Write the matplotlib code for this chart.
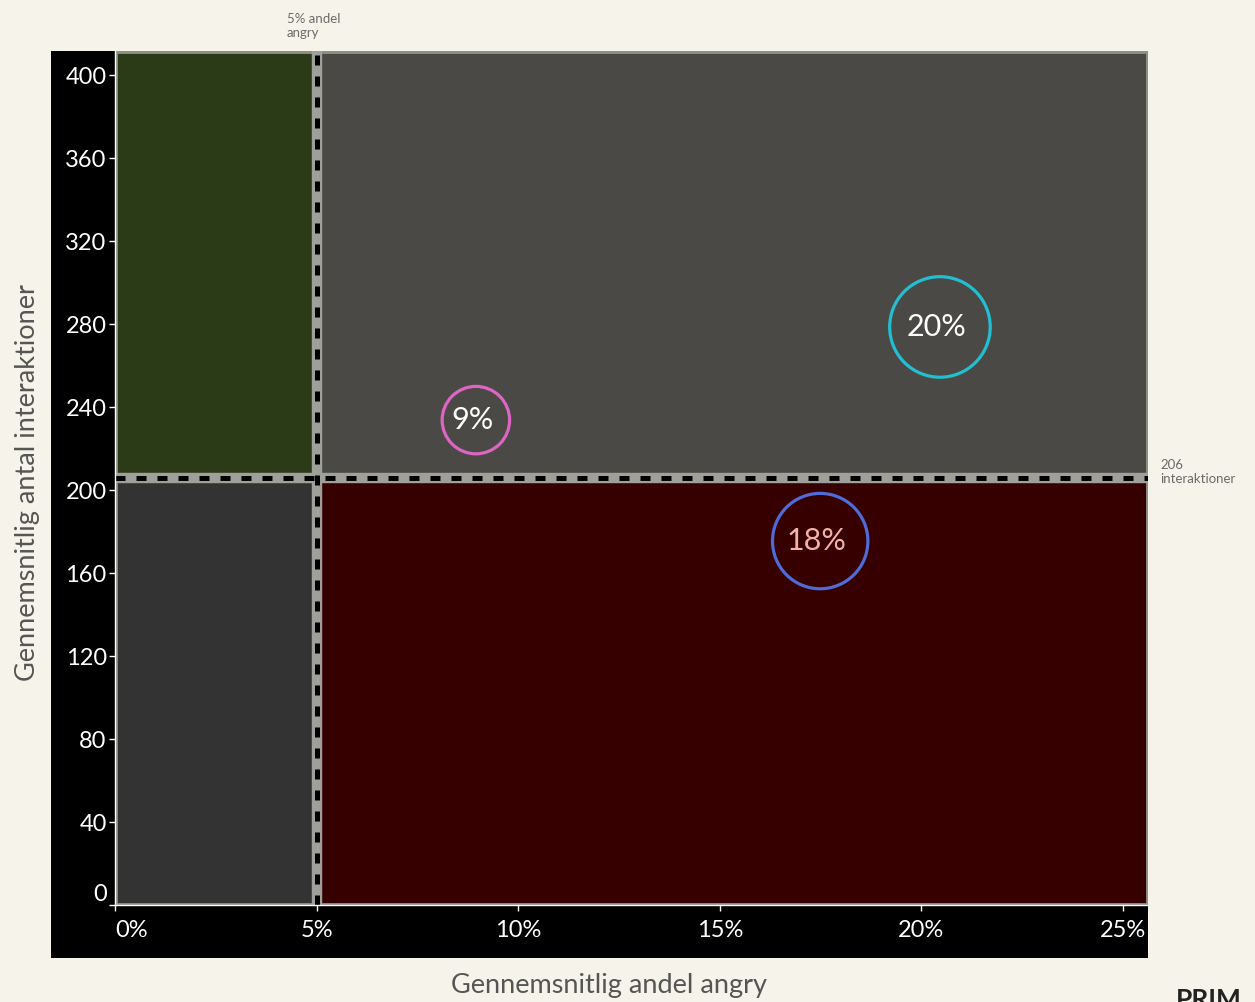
import matplotlib.pyplot as plt
from matplotlib.patches import Rectangle

plt.rcParams['font.family'] = ['Lato', 'DejaVu Sans']

# thresholds splitting the plane into four quadrants
x_threshold = 0.05
y_threshold = 206

# bubbles (share of posts in each quadrant)
bubble_labels = ['9%', '20%', '18%']
bubble_values = [9, 20, 18]
bubble_x = [0.0895, 0.2046, 0.1749]
bubble_y = [233.7, 278.6, 175.4]
bubble_edge = ['#dc66c3', '#22bfd2', '#4e6bd8']
bubble_text = ['white', 'white', '#f2b2a6']

x_ticks = [0, 0.05, 0.10, 0.15, 0.20, 0.25]
x_tick_labels = ['0%', '5%', '10%', '15%', '20%', '25%']
y_ticks = [0, 40, 80, 120, 160, 200, 240, 280, 320, 360, 400]

x_max = 0.2562
y_max = 411.6

W, H = 1255, 1002
fig = plt.figure(figsize=(W / 100, H / 100), dpi=100, facecolor='#f6f4ea')

# black panel behind axes and tick labels
fig.patches.append(Rectangle((51 / W, 1 - 958 / H), (1148 - 51) / W, (958 - 51) / H,
                             transform=fig.transFigure, facecolor='black',
                             edgecolor='none', zorder=-5))

ax = fig.add_axes([115 / W, 1 - 905 / H, (1148 - 115) / W, (905 - 51) / H])
ax.set_zorder(1)
ax.set_facecolor('black')
ax.set_xlim(0, x_max)
ax.set_ylim(0, y_max)

# quadrants
quads = [
    (0, y_threshold, x_threshold, y_max - y_threshold, '#2b3a17'),
    (x_threshold, y_threshold, x_max - x_threshold, y_max - y_threshold, '#4a4945'),
    (0, 0, x_threshold, y_threshold, '#333333'),
    (x_threshold, 0, x_max - x_threshold, y_threshold, '#360000'),
]
for x0, y0, w, h, c in quads:
    ax.add_patch(Rectangle((x0, y0), w, h, facecolor=c, edgecolor='#8e8f86',
                           linewidth=3.5, zorder=1))

# threshold lines: light band with black dashes
ax.axvline(x_threshold, color='#a0a09a', linewidth=7.5, zorder=2)
ax.axvline(x_threshold, color='black', linewidth=3.6, linestyle=(0, (2.0, 2.2)), zorder=3)
ax.axhline(y_threshold, color='#a0a09a', linewidth=7.5, zorder=2)
ax.axhline(y_threshold, color='black', linewidth=3.6, linestyle=(0, (2.0, 2.2)), zorder=3)

# bubbles
for lab, val, x, y, ec, tc in zip(bubble_labels, bubble_values, bubble_x,
                                  bubble_y, bubble_edge, bubble_text):
    ax.scatter(x, y, s=262 * val, facecolors='none', edgecolors=ec,
               linewidths=2.3, zorder=4)
    ax.text(x - 0.0008, y, lab, color=tc, fontsize=22, ha='center',
            va='center', zorder=5)

ax.set_xticks(x_ticks)
ax.set_xticklabels(x_tick_labels)
ax.set_yticks(y_ticks)
ax.tick_params(axis='both', colors='white', labelsize=17, length=4, width=1)
ax.tick_params(axis='x', pad=7)
ax.tick_params(axis='y', pad=2)
ax.get_xticklabels()[0].set_ha('left')
ax.get_yticklabels()[0].set_va('bottom')

for s in ('top', 'right'):
    ax.spines[s].set_visible(False)
for s in ('left', 'bottom'):
    ax.spines[s].set_color('white')
    ax.spines[s].set_linewidth(1)
    ax.spines[s].set_zorder(6)

# axis titles
fig.text(609 / W, 1 - 985 / H, 'Gennemsnitlig andel angry', color='#555555',
         fontsize=19.5, ha='center', va='center')
fig.text(28 / W, 1 - 483 / H, 'Gennemsnitlig antal interaktioner', color='#555555',
         fontsize=19.5, ha='center', va='center', rotation=90)

# threshold annotations
fig.text(287 / W, 1 - 13 / H, '5% andel\nangry', color='#6b6b6b', fontsize=9.5,
         ha='left', va='top', linespacing=1.2)
fig.text(1160 / W, 1 - 459 / H, '206\ninteraktioner', color='#6b6b6b', fontsize=9.5,
         ha='left', va='top', linespacing=1.2)

# logo, cut off by the figure edge as in the source image
fig.text(1176 / W, 1 - 988 / H, 'PRIM', color='#222222', fontsize=19,
         fontweight='bold', ha='left', va='top')

fig.savefig('out.png', dpi=100, facecolor=fig.get_facecolor())
